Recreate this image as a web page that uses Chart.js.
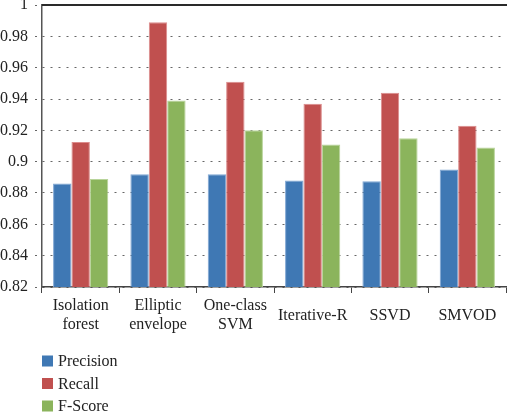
<!DOCTYPE html>
<html lang="en">
<head>
<meta charset="UTF-8" />
<title>Precision, Recall and F-Score</title>
<script src="https://cdn.jsdelivr.net/npm/chart.js@4"></script>
<style>
  html, body { margin: 0; padding: 0; background: #fff; }
</style>
</head>
<body>
<canvas id="myChart" width="507" height="412"></canvas>
<script>
  /*** data ***/
  const categories = [["Isolation", "forest"], ["Elliptic", "envelope"], ["One-class", "SVM"], "Iterative-R", "SSVD", "SMVOD"];
  const precision = [0.886, 0.892, 0.892, 0.888, 0.8875, 0.895];
  const recall = [0.9125, 0.989, 0.951, 0.937, 0.944, 0.923];
  const fScore = [0.889, 0.939, 0.92, 0.911, 0.915, 0.909];
  const yMin = 0.82, yMax = 1, yStep = 0.02;

  Chart.defaults.font.family = "'Liberation Serif', serif";
  Chart.defaults.font.size = 16;
  Chart.defaults.color = "#222";

  // solid line at the top of the value axis + vertical legend under the chart
  const frameAndLegend = {
    id: "frameAndLegend",
    afterDraw(chart) {
      const c = chart.ctx;
      const top = chart.scales.y.getPixelForValue(yMax);
      c.save();
      c.setLineDash([]);
      c.strokeStyle = "#2a2a2a";
      c.lineWidth = 2;
      c.beginPath();
      c.moveTo(chart.chartArea.left, top);
      c.lineTo(chart.width, top);
      c.stroke();
      c.font = "16px 'Liberation Serif', serif";
      c.textBaseline = "middle";
      chart.data.datasets.forEach((ds, i) => {
        const y = 361 + i * 22.5;
        c.fillStyle = ds.backgroundColor;
        c.fillRect(42, y - 5.5, 11, 11);
        c.fillStyle = "#222";
        c.fillText(ds.label, 58, y + 1);
      });
      c.restore();
    },
  };

  const chart = new Chart(document.getElementById("myChart"), {
    type: "bar",
    data: {
      labels: categories,
      datasets: [
        { label: "Precision", data: precision, backgroundColor: "#3f78b4", borderColor: "#7fa6d3", borderWidth: 1 },
        { label: "Recall", data: recall, backgroundColor: "#c0504f", borderColor: "#dc8c8c", borderWidth: 1 },
        { label: "F-Score", data: fScore, backgroundColor: "#8bb45c", borderColor: "#b8d49a", borderWidth: 1 },
      ],
    },
    options: {
      responsive: false,
      animation: false,
      layout: { padding: { top: 5, right: 1, bottom: 72, left: 0 } },
      datasets: { bar: { categoryPercentage: 0.714, barPercentage: 1 } },
      plugins: { legend: { display: false }, tooltip: { enabled: false } },
      scales: {
        x: {
          grid: { drawOnChartArea: false, offset: true, tickLength: 6, color: "#444", lineWidth: 1 },
          border: { color: "#444", width: 1.5 },
          ticks: { padding: 13, maxRotation: 0, autoSkip: false, font: { size: 16, lineHeight: 1.2 }, crossAlign: "center" },
          afterFit(scale) {
            scale.height = 53;
            scale.paddingLeft = 0;
            scale.paddingRight = 0;
          },
        },
        y: {
          min: yMin,
          max: yMax,
          ticks: {
            stepSize: yStep,
            padding: 7,
            font: { size: 16 },
            callback: (v) => String(+v.toFixed(2)),
          },
          grid: {
            color: "#666",
            lineWidth: 1,
            tickLength: 7,
            tickColor: "#666",
            tickBorderDash: [2, 4],
          },
          border: { color: "#555", width: 1.5, dash: [2, 6] },
          afterFit(scale) {
            scale.width = 42;
            scale.paddingTop = 0;
            scale.paddingBottom = 0;
          },
        },
      },
    },
    plugins: [frameAndLegend],
  });
</script>
</body>
</html>
